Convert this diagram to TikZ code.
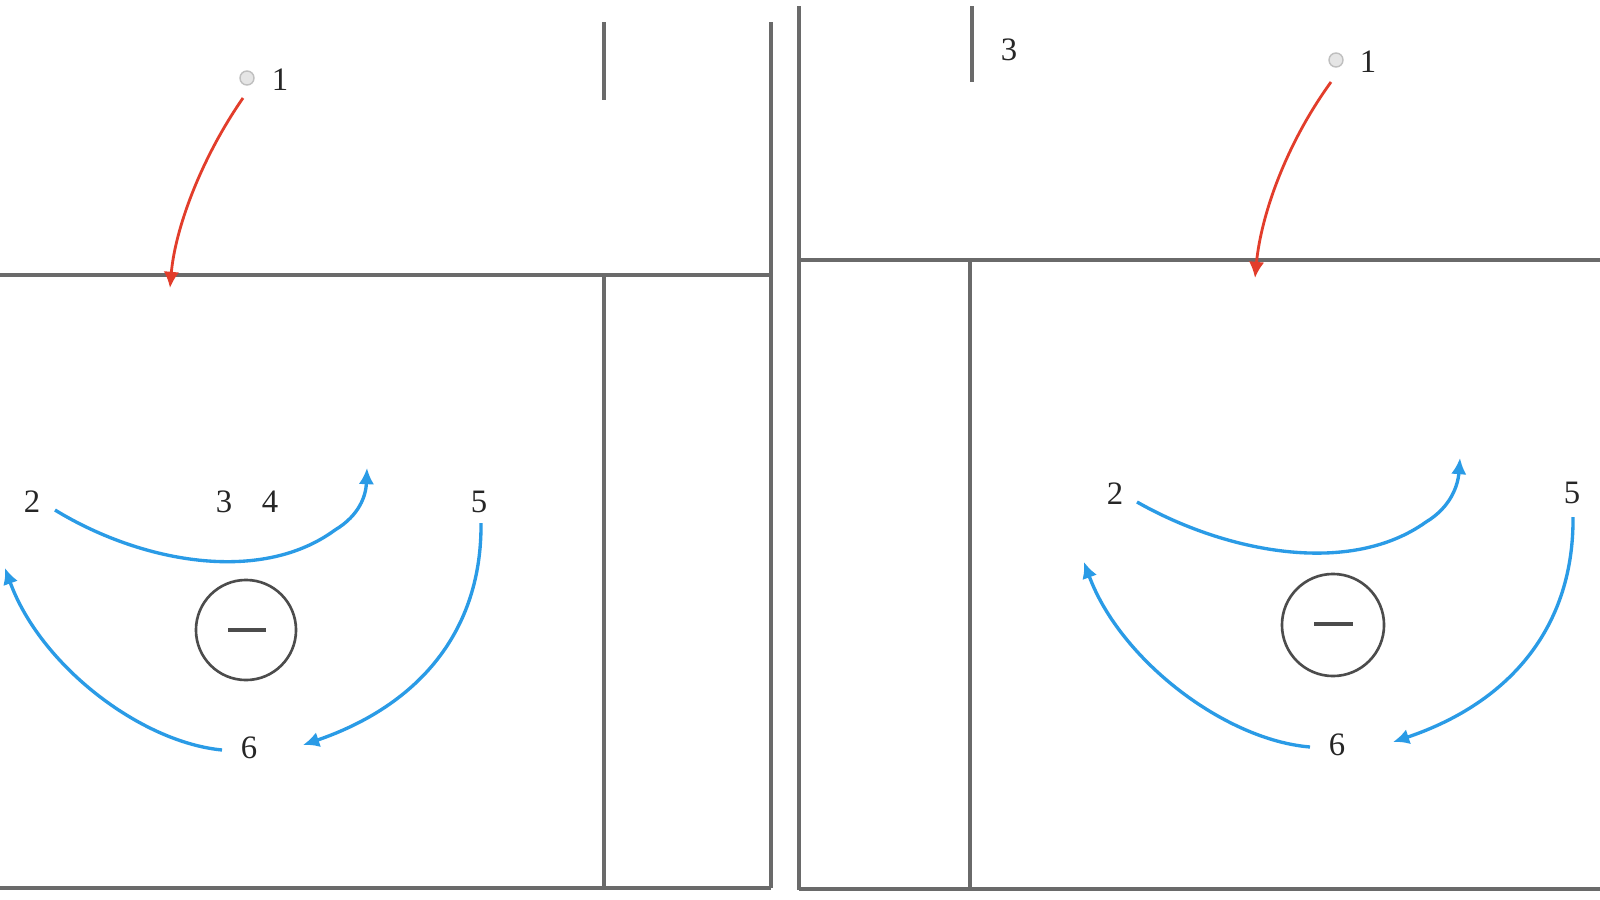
\documentclass[tikz,border=0pt]{standalone}
\usepackage{fontspec}
\setmainfont{Liberation Serif}
\usetikzlibrary{arrows.meta}
\definecolor{wallgray}{HTML}{6A6A6A}
\definecolor{flowblue}{HTML}{2A9BE6}
\definecolor{redarrow}{HTML}{E23D2B}
\begin{document}
\begin{tikzpicture}[x=0.01cm,y=-0.01cm,
  wall/.style={draw=wallgray,line width=0.95pt},
  flow/.style={draw=flowblue,line width=0.95pt,-{Latex[length=4.6pt,width=4.4pt]}},
  pass/.style={draw=redarrow,line width=0.8pt,-{Latex[length=4.6pt,width=4.4pt]}},
  num/.style={inner sep=0pt,font=\fontsize{9.3}{11}\selectfont,text=black!85},
  ball/.style={circle,draw=black!25,fill=black!10,line width=0.4pt,minimum size=0.14cm,inner sep=0pt},
  ring/.style={circle,draw=black!70,line width=0.75pt,minimum size=1cm,inner sep=0pt},
  minus/.style={draw=black!70,line width=1.1pt}]
\fill[white] (0,0) rectangle (1600,900);
\useasboundingbox (0,0) rectangle (1600,900);

% ---------------- left panel ----------------
\draw[wall] (0,275) -- (771,275);
\draw[wall] (604,22) -- (604,100);
\draw[wall] (604,275) -- (604,888);
\draw[wall] (771,22) -- (771,888);
\draw[wall] (0,888) -- (771,888);

\node[ball] (b1) at (247,78) {};
\node[num] (l1) at (280,80) {1};
\node[num] (l2) at (32,502) {2};
\node[num] (l3) at (224,502) {3};
\node[num] (l4) at (270,502) {4};
\node[num] (l5) at (479,502) {5};
\node[num] (l6) at (249,748) {6};
\node[ring] (r1) at (246,630) {};
\draw[minus] (228,630) -- (266,630);

\coordinate (rs1) at (243,98);
\coordinate (rt1) at (170,288);
\draw[pass] (rs1) .. controls (200,160) and (175,230) .. (rt1);

\coordinate (as1) at (55,510);
\coordinate (am1) at (335,530);
\coordinate (at1) at (367,468);
\draw[flow] (as1) .. controls (140,562) and (260,585) .. (am1) .. controls (360,515) and (366,495) .. (at1);

\coordinate (bs1) at (481,523);
\coordinate (bt1) at (303,745);
\draw[flow] (bs1) .. controls (482,630) and (420,705) .. (bt1);

\coordinate (cs1) at (222,750);
\coordinate (ct1) at (5,568);
\draw[flow] (cs1) .. controls (140,742) and (40,665) .. (ct1);

% ---------------- right panel ----------------
\draw[wall] (799,6) -- (799,890);
\draw[wall] (799,260) -- (1600,260);
\draw[wall] (970,260) -- (970,889);
\draw[wall] (972,6) -- (972,82);
\draw[wall] (799,889) -- (1600,889);
\node[num] (m3) at (1009,50) {3};

\node[ball] (b2) at (1336,60) {};
\node[num] (m1) at (1368,62) {1};
\node[num] (m2) at (1115,494) {2};
\node[num] (m5) at (1572,493) {5};
\node[num] (m6) at (1337,745) {6};
\node[ring,minimum size=1.02cm] (r2) at (1333,625) {};
\draw[minus] (1314,624) -- (1353,624);

\coordinate (rs2) at (1331,82);
\coordinate (rt2) at (1255,278);
\draw[pass] (rs2) .. controls (1286,144) and (1261,215) .. (rt2);

\coordinate (as2) at (1137,502);
\coordinate (am2) at (1426,522);
\coordinate (at2) at (1460,458);
\draw[flow] (as2) .. controls (1225,552) and (1349,577) .. (am2) .. controls (1451,507) and (1458,485) .. (at2);

\coordinate (bs2) at (1573,517);
\coordinate (bt2) at (1393,742);
\draw[flow] (bs2) .. controls (1574,625) and (1512,702) .. (bt2);

\coordinate (cs2) at (1310,747);
\coordinate (ct2) at (1084,562);
\draw[flow] (cs2) .. controls (1225,740) and (1120,660) .. (ct2);
\end{tikzpicture}
\end{document}
